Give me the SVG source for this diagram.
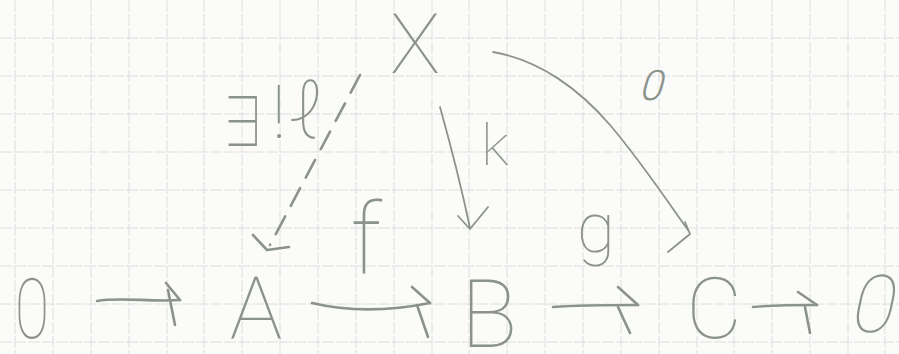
<svg xmlns="http://www.w3.org/2000/svg" width="899" height="354" viewBox="0 0 899 354">
<style>
.grid line{stroke:#dedede;stroke-width:1;stroke-dasharray:12 2}
.pen{fill:none;stroke:#8b938b;stroke-width:2.6;stroke-linecap:round;stroke-linejoin:round}
.thin{stroke-width:1.8}
.dash{stroke-dasharray:20 12}
.lbl{font-family:Roboto,"Liberation Sans","DejaVu Sans",sans-serif;font-weight:100;fill:#8b938b;text-anchor:middle}
.sm{font-weight:300}
.ex{font-family:"Noto Sans CJK JP","Noto Sans CJK SC",Roboto,sans-serif;font-weight:100}
</style>
<rect width="899" height="354" fill="#fbfbfa"/>
<g class="grid">
<line x1="15" y1="0" x2="15" y2="354"/><line x1="53" y1="0" x2="53" y2="354"/><line x1="91" y1="0" x2="91" y2="354"/><line x1="129" y1="0" x2="129" y2="354"/><line x1="167" y1="0" x2="167" y2="354"/><line x1="204" y1="0" x2="204" y2="354"/><line x1="242" y1="0" x2="242" y2="354"/><line x1="280" y1="0" x2="280" y2="354"/><line x1="318" y1="0" x2="318" y2="354"/><line x1="356" y1="0" x2="356" y2="354"/><line x1="394" y1="0" x2="394" y2="354"/><line x1="432" y1="0" x2="432" y2="354"/><line x1="469" y1="0" x2="469" y2="354"/><line x1="507" y1="0" x2="507" y2="354"/><line x1="545" y1="0" x2="545" y2="354"/><line x1="583" y1="0" x2="583" y2="354"/><line x1="621" y1="0" x2="621" y2="354"/><line x1="659" y1="0" x2="659" y2="354"/><line x1="697" y1="0" x2="697" y2="354"/><line x1="734" y1="0" x2="734" y2="354"/><line x1="772" y1="0" x2="772" y2="354"/><line x1="810" y1="0" x2="810" y2="354"/><line x1="848" y1="0" x2="848" y2="354"/><line x1="885" y1="0" x2="885" y2="354"/>
<line x1="0" y1="38" x2="899" y2="38"/><line x1="0" y1="76" x2="899" y2="76"/><line x1="0" y1="114" x2="899" y2="114"/><line x1="0" y1="152" x2="899" y2="152"/><line x1="0" y1="190" x2="899" y2="190"/><line x1="0" y1="228" x2="899" y2="228"/><line x1="0" y1="266" x2="899" y2="266"/><line x1="0" y1="304" x2="899" y2="304"/><line x1="0" y1="342" x2="899" y2="342"/>
</g>
<g id="connectors">
<g id="e-X-A"><path class="pen dash" d="M360,75 L270,245"/><path class="pen" d="M253,235 L267,250 L289,247"/></g>
<g id="e-X-B"><path class="pen thin" d="M440,107 C452,150 462,190 470,228"/><path class="pen thin" d="M458,216 L470,229 L488,207"/></g>
<g id="e-X-C"><path class="pen thin" d="M493,52 C540,60 580,90 610,125 S670,205 688,230"/><path class="pen thin" d="M685,222 L690,234 L668,252"/></g>
<g id="e-0-A"><path class="pen" d="M97,301 C120,297 150,302 180,300"/><path class="pen" d="M166,283 L180,300 M168,290 L175,325"/></g>
<g id="e-A-B"><path class="pen" d="M312,303 C350,312 390,311 430,303"/><path class="pen" d="M412,287 L430,303 M417,305 L428,337"/></g>
<g id="e-B-C"><path class="pen" d="M553,307 C580,305 610,305 638,305"/><path class="pen" d="M618,287 L638,305 M618,307 L630,333"/></g>
<g id="e-C-0"><path class="pen" d="M753,307 C775,305 800,305 817,305"/><path class="pen" d="M798,292 L817,305 M805,307 L810,333"/></g>
</g>
<g id="n-X"><text class="lbl" x="415" y="73" font-size="84">X</text></g>
<g id="n-0L"><text class="lbl" x="0" y="0" font-size="84" transform="translate(32,338) scale(0.75,1)">0</text></g>
<g id="n-A"><text class="lbl" x="256" y="339" font-size="88">A</text></g>
<g id="n-B"><text class="lbl" x="489" y="347" font-size="94">B</text></g>
<g id="n-C"><text class="lbl" x="714" y="338" font-size="86">C</text></g>
<g id="n-0R"><text class="lbl" x="0" y="0" font-size="80" transform="translate(870,332) skewX(-12)">0</text></g>
<g id="l-h">
<text class="lbl ex" x="0" y="0" font-size="60" transform="translate(243,147) scale(0.8,1.15)">∃</text>
<text class="lbl" x="279" y="138" font-size="74">!</text>
<text class="lbl" x="306" y="138" font-size="78">ℓ</text>
</g>
<g id="l-k"><text class="lbl" x="495" y="165" font-size="58">k</text></g>
<g id="l-0"><text class="lbl sm" x="0" y="0" font-size="42" transform="translate(650,100) skewX(-15)">0</text></g>
<g id="l-f"><text class="lbl" x="366" y="273" font-size="98">f</text></g>
<g id="l-g"><text class="lbl" x="596" y="252" font-size="70">g</text></g>
</svg>
